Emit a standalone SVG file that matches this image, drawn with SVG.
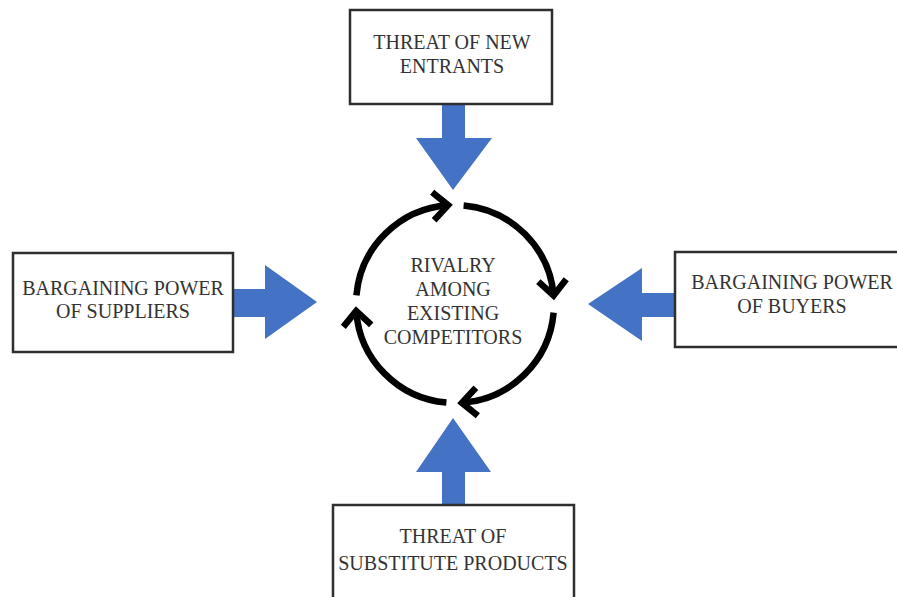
<svg xmlns="http://www.w3.org/2000/svg" width="897" height="597" viewBox="0 0 897 597">
  <style>
    .box { fill: #ffffff; stroke: #2e2e2e; stroke-width: 2.5; }
    .lbl { font-family: "Liberation Serif", "Times New Roman", serif; font-size: 20px; fill: #333333; text-anchor: middle; }
    .force { fill: #4472C4; stroke: none; }
    .cyc { fill: none; stroke: #000000; stroke-width: 6.5; marker-end: url(#chev); }
  </style>
  <defs>
    <marker id="chev" markerUnits="userSpaceOnUse" markerWidth="40" markerHeight="40" refX="0" refY="0" orient="auto" overflow="visible" viewBox="-20 -20 40 40">
      <path d="M -15 -14 L 0 0 L -15 14" fill="none" stroke="#000000" stroke-width="6.5" stroke-linejoin="miter"/>
    </marker>
  </defs>
  <rect width="897" height="597" fill="#ffffff"/>

  <g id="connectors">
    <polygon class="force" points="442,104 465,104 465,138 492,138 453,190 416,138 442,138"/>
    <polygon class="force" points="442,505 465,505 465,472 491,472 453,418 416,472 442,472"/>
    <polygon class="force" points="233,289 265,289 265,265 317,302 265,339 265,317 233,317"/>
    <polygon class="force" points="675,293 642,293 642,268 588,304 642,341 642,317 675,317"/>
  </g>

  <g id="rivalry">
    <path class="cyc" d="M 356.4 295.4 A 99 99 0 0 1 448.1 205.2"/>
    <path class="cyc" d="M 463.6 205.4 A 99 99 0 0 1 553.6 295.4"/>
    <path class="cyc" d="M 553.6 312.6 A 99 99 0 0 1 461.9 402.8"/>
    <path class="cyc" d="M 446.4 402.6 A 99 99 0 0 1 356.2 310.9"/>
    <text class="lbl" x="453" y="272">RIVALRY</text>
    <text class="lbl" x="453" y="296">AMONG</text>
    <text class="lbl" x="453" y="320">EXISTING</text>
    <text class="lbl" x="453" y="344">COMPETITORS</text>
  </g>

  <g id="new-entrants">
    <rect class="box" x="350" y="10" width="202" height="94"/>
    <text class="lbl" x="452" y="49">THREAT OF NEW</text>
    <text class="lbl" x="452" y="73">ENTRANTS</text>
  </g>

  <g id="suppliers">
    <rect class="box" x="13" y="253" width="220" height="99"/>
    <text class="lbl" x="123" y="295">BARGAINING POWER</text>
    <text class="lbl" x="123" y="318">OF SUPPLIERS</text>
  </g>

  <g id="buyers">
    <rect class="box" x="675" y="252" width="240" height="95"/>
    <text class="lbl" x="792" y="289">BARGAINING POWER</text>
    <text class="lbl" x="792" y="313">OF BUYERS</text>
  </g>

  <g id="substitutes">
    <rect class="box" x="333" y="505" width="241" height="110"/>
    <text class="lbl" x="453" y="543">THREAT OF</text>
    <text class="lbl" x="453" y="570">SUBSTITUTE PRODUCTS</text>
  </g>
</svg>
